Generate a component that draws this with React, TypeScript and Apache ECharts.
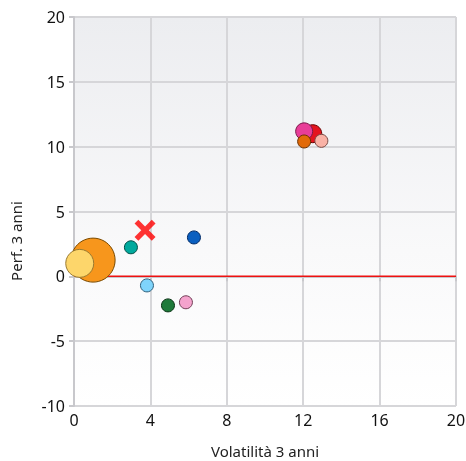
import React, { useEffect, useRef } from "react";
import * as echarts from "echarts";

const volatility = [1.0, 0.3, 2.98, 6.28, 3.82, 4.92, 5.86, 12.5, 12.05, 12.95, 12.05];
const performance = [1.25, 1.0, 2.24, 3.0, -0.7, -2.24, -2.0, 11.0, 11.18, 10.45, 10.4];
const bubbleSizes = [44, 28, 13, 13, 13, 13, 13, 18, 17, 13, 13];
const fillColors = ["#f7961c", "#fdd66b", "#00a99d", "#0a5fc0", "#7fd4fb", "#1f7a3a", "#f4a3cd", "#e4141e", "#e83d98", "#f9b2a6", "#e26a08"];
const borderColors = ["#7a4a00", "#9a7a30", "#004d45", "#002a66", "#2f5f7a", "#0a3315", "#6f3d55", "#6a0000", "#7a1a4a", "#7a4a44", "#6a3000"];
const benchmarkPoint = [3.72, 3.55];
const xTicks = { min: 0, max: 20, interval: 4 };
const yTicks = { min: -10, max: 20, interval: 5 };
const xName = "Volatilità 3 anni";
const yName = "Perf. 3 anni";

const FONT = "Noto Sans";
const X_PATH = "path://M0,3.6 L3.6,0 L10,6.4 L16.4,0 L20,3.6 L13.6,10 L20,16.4 L16.4,20 L10,13.6 L3.6,20 L0,16.4 L6.4,10 Z";

export default function App() {
  const ref = useRef<HTMLDivElement>(null);
  useEffect(() => {
    const chart = echarts.init(ref.current!, null, { renderer: "svg" });
    const data = volatility.map((x, i) => ({
      value: [x, performance[i]],
      symbolSize: bubbleSizes[i],
      itemStyle: { color: fillColors[i], borderColor: borderColors[i], borderWidth: 1, opacity: 1 },
    }));
    chart.setOption({
      animation: false,
      grid: {
        left: 74, top: 17, right: 10, bottom: 55, show: true, borderWidth: 0,
        containLabel: false, outerBoundsMode: "none",
        backgroundColor: new echarts.graphic.LinearGradient(0, 0, 0, 1, [
          { offset: 0, color: "#ecedf0" },
          { offset: 0.6, color: "#f9f9fa" },
          { offset: 1, color: "#ffffff" },
        ]),
      },
      xAxis: {
        type: "value", min: xTicks.min, max: xTicks.max, interval: xTicks.interval,
        name: xName, nameLocation: "middle", nameGap: 37,
        nameTextStyle: { fontFamily: FONT, fontSize: 15, color: "#222" },
        axisLine: { show: true, lineStyle: { color: "#c8c8cc", width: 2 } },
        axisTick: { show: true, length: 5, lineStyle: { color: "#c8c8cc", width: 2 } },
        axisLabel: { fontFamily: FONT, fontSize: 16, color: "#111", margin: 6 },
        splitLine: { show: true, lineStyle: { color: "#d6d6d9", width: 2 } },
      },
      yAxis: {
        type: "value", min: yTicks.min, max: yTicks.max, interval: yTicks.interval,
        axisLine: { show: true, lineStyle: { color: "#c8c8cc", width: 2 } },
        axisTick: { show: true, length: 5, lineStyle: { color: "#c8c8cc", width: 2 } },
        axisLabel: { fontFamily: FONT, fontSize: 16, color: "#111", margin: 9 },
        splitLine: { show: true, lineStyle: { color: "#d6d6d9", width: 2 } },
      },
      graphic: [
        {
          type: "text", x: 16, y: 241, rotation: Math.PI / 2,
          style: { text: yName, fontFamily: FONT, fontSize: 15, fill: "#222", align: "center", verticalAlign: "middle" },
        },
      ],
      series: [
        {
          type: "line", data: [[xTicks.min, 0], [xTicks.max, 0]], symbol: "none",
          lineStyle: { color: "#ee1111", width: 1.5 }, silent: true, z: 2,
        },
        { type: "scatter", data, z: 3 },
        {
          type: "scatter", data: [benchmarkPoint], symbol: X_PATH, symbolSize: 21,
          itemStyle: { color: "#ff0000" }, z: 4,
        },
      ],
    });
    return () => chart.dispose();
  }, []);
  return <div ref={ref} style={{ position: "fixed", left: 0, top: 0, width: 466, height: 461 }} />;
}
